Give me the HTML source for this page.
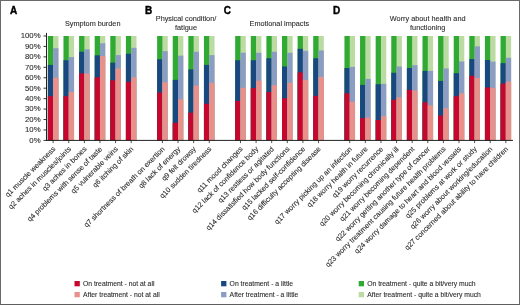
<!DOCTYPE html>
<html><head><meta charset="utf-8">
<style>
html,body{margin:0;padding:0;background:#fff;}
body{width:520px;height:305px;overflow:hidden;position:relative;}
#frame{position:absolute;left:0;top:0;width:518px;height:303px;border:1px solid #6a6a6a;border-bottom-color:#5e5e5e;}
svg{position:absolute;left:0;top:0;filter:blur(0.35px);}
text{font-family:"Liberation Sans",sans-serif;fill:#2c2c2c;stroke:#2c2c2c;stroke-width:0.1px;}
.lb{font-size:7.3px;}
.tk{font-size:7.8px;}
.tt{font-size:7.3px;}
.lg{font-size:6.8px;}
.pl{font-size:10px;font-weight:bold;fill:#000;stroke:#000;stroke-width:0.4px;}
</style></head><body>
<div id="frame"></div>
<svg width="520" height="305" viewBox="0 0 520 305">
<rect x="47.85" y="36.00" width="5.90" height="104.40" fill="#31aa33"/>
<rect x="47.85" y="64.92" width="5.90" height="75.48" fill="#18487f"/>
<rect x="47.85" y="96.24" width="5.90" height="44.16" fill="#c6062c"/>
<rect x="53.15" y="36.00" width="5.30" height="104.40" fill="#bcdba2"/>
<rect x="53.15" y="48.21" width="5.30" height="92.19" fill="#8b9dc3"/>
<rect x="53.15" y="77.76" width="5.30" height="62.64" fill="#e8918a"/>
<line x1="53.15" y1="140.40" x2="53.15" y2="143.10" stroke="#222" stroke-width="0.8"/>
<text x="55.85" y="149.50" text-anchor="end" transform="rotate(-45 55.85 149.50)" class="lb">q1 muscle weakness</text>
<rect x="63.46" y="36.00" width="5.90" height="104.40" fill="#31aa33"/>
<rect x="63.46" y="60.22" width="5.90" height="80.18" fill="#18487f"/>
<rect x="63.46" y="96.24" width="5.90" height="44.16" fill="#c6062c"/>
<rect x="68.76" y="36.00" width="5.30" height="104.40" fill="#bcdba2"/>
<rect x="68.76" y="57.09" width="5.30" height="83.31" fill="#8b9dc3"/>
<rect x="68.76" y="91.96" width="5.30" height="48.44" fill="#e8918a"/>
<line x1="68.76" y1="140.40" x2="68.76" y2="143.10" stroke="#222" stroke-width="0.8"/>
<text x="71.46" y="149.50" text-anchor="end" transform="rotate(-45 71.46 149.50)" class="lb">q2 aches in muscles/joints</text>
<rect x="79.07" y="36.00" width="5.90" height="104.40" fill="#31aa33"/>
<rect x="79.07" y="51.76" width="5.90" height="88.64" fill="#18487f"/>
<rect x="79.07" y="73.38" width="5.90" height="67.02" fill="#c6062c"/>
<rect x="84.37" y="36.00" width="5.30" height="104.40" fill="#bcdba2"/>
<rect x="84.37" y="49.36" width="5.30" height="91.04" fill="#8b9dc3"/>
<rect x="84.37" y="73.58" width="5.30" height="66.82" fill="#e8918a"/>
<line x1="84.37" y1="140.40" x2="84.37" y2="143.10" stroke="#222" stroke-width="0.8"/>
<text x="87.07" y="149.50" text-anchor="end" transform="rotate(-45 87.07 149.50)" class="lb">q3 aches in bones</text>
<rect x="94.68" y="36.00" width="5.90" height="104.40" fill="#31aa33"/>
<rect x="94.68" y="55.31" width="5.90" height="85.09" fill="#18487f"/>
<rect x="94.68" y="77.34" width="5.90" height="63.06" fill="#c6062c"/>
<rect x="99.98" y="36.00" width="5.30" height="104.40" fill="#bcdba2"/>
<rect x="99.98" y="43.31" width="5.30" height="97.09" fill="#8b9dc3"/>
<rect x="99.98" y="56.04" width="5.30" height="84.36" fill="#e8918a"/>
<line x1="99.98" y1="140.40" x2="99.98" y2="143.10" stroke="#222" stroke-width="0.8"/>
<text x="102.68" y="149.50" text-anchor="end" transform="rotate(-45 102.68 149.50)" class="lb">q4 problems with sense of taste</text>
<rect x="110.29" y="36.00" width="5.90" height="104.40" fill="#31aa33"/>
<rect x="110.29" y="62.62" width="5.90" height="77.78" fill="#18487f"/>
<rect x="110.29" y="80.27" width="5.90" height="60.13" fill="#c6062c"/>
<rect x="115.59" y="36.00" width="5.30" height="104.40" fill="#bcdba2"/>
<rect x="115.59" y="55.11" width="5.30" height="85.29" fill="#8b9dc3"/>
<rect x="115.59" y="68.47" width="5.30" height="71.93" fill="#e8918a"/>
<line x1="115.59" y1="140.40" x2="115.59" y2="143.10" stroke="#222" stroke-width="0.8"/>
<text x="118.29" y="149.50" text-anchor="end" transform="rotate(-45 118.29 149.50)" class="lb">q5 vulnerable veins</text>
<rect x="125.90" y="36.00" width="5.90" height="104.40" fill="#31aa33"/>
<rect x="125.90" y="53.75" width="5.90" height="86.65" fill="#18487f"/>
<rect x="125.90" y="81.83" width="5.90" height="58.57" fill="#c6062c"/>
<rect x="131.20" y="36.00" width="5.30" height="104.40" fill="#bcdba2"/>
<rect x="131.20" y="47.80" width="5.30" height="92.60" fill="#8b9dc3"/>
<rect x="131.20" y="77.34" width="5.30" height="63.06" fill="#e8918a"/>
<line x1="131.20" y1="140.40" x2="131.20" y2="143.10" stroke="#222" stroke-width="0.8"/>
<text x="133.90" y="149.50" text-anchor="end" transform="rotate(-45 133.90 149.50)" class="lb">q6 itching of skin</text>
<rect x="157.12" y="36.00" width="5.90" height="104.40" fill="#31aa33"/>
<rect x="157.12" y="59.28" width="5.90" height="81.12" fill="#18487f"/>
<rect x="157.12" y="92.58" width="5.90" height="47.82" fill="#c6062c"/>
<rect x="162.42" y="36.00" width="5.30" height="104.40" fill="#bcdba2"/>
<rect x="162.42" y="51.14" width="5.30" height="89.26" fill="#8b9dc3"/>
<rect x="162.42" y="82.25" width="5.30" height="58.15" fill="#e8918a"/>
<line x1="162.42" y1="140.40" x2="162.42" y2="143.10" stroke="#222" stroke-width="0.8"/>
<text x="165.12" y="149.50" text-anchor="end" transform="rotate(-45 165.12 149.50)" class="lb">q7 shortness of breath on exertion</text>
<rect x="172.73" y="36.00" width="5.90" height="104.40" fill="#31aa33"/>
<rect x="172.73" y="79.85" width="5.90" height="60.55" fill="#18487f"/>
<rect x="172.73" y="122.86" width="5.90" height="17.54" fill="#c6062c"/>
<rect x="178.03" y="36.00" width="5.30" height="104.40" fill="#bcdba2"/>
<rect x="178.03" y="55.63" width="5.30" height="84.77" fill="#8b9dc3"/>
<rect x="178.03" y="99.27" width="5.30" height="41.13" fill="#e8918a"/>
<line x1="178.03" y1="140.40" x2="178.03" y2="143.10" stroke="#222" stroke-width="0.8"/>
<text x="180.73" y="149.50" text-anchor="end" transform="rotate(-45 180.73 149.50)" class="lb">q8 lack of energy</text>
<rect x="188.34" y="36.00" width="5.90" height="104.40" fill="#31aa33"/>
<rect x="188.34" y="69.41" width="5.90" height="70.99" fill="#18487f"/>
<rect x="188.34" y="112.63" width="5.90" height="27.77" fill="#c6062c"/>
<rect x="193.64" y="36.00" width="5.30" height="104.40" fill="#bcdba2"/>
<rect x="193.64" y="51.76" width="5.30" height="88.64" fill="#8b9dc3"/>
<rect x="193.64" y="85.59" width="5.30" height="54.81" fill="#e8918a"/>
<line x1="193.64" y1="140.40" x2="193.64" y2="143.10" stroke="#222" stroke-width="0.8"/>
<text x="196.34" y="149.50" text-anchor="end" transform="rotate(-45 196.34 149.50)" class="lb">q9 felt drowsy</text>
<rect x="203.95" y="36.00" width="5.90" height="104.40" fill="#31aa33"/>
<rect x="203.95" y="64.92" width="5.90" height="75.48" fill="#18487f"/>
<rect x="203.95" y="103.76" width="5.90" height="36.64" fill="#c6062c"/>
<rect x="209.25" y="36.00" width="5.30" height="104.40" fill="#bcdba2"/>
<rect x="209.25" y="55.11" width="5.30" height="85.29" fill="#8b9dc3"/>
<rect x="209.25" y="82.88" width="5.30" height="57.52" fill="#e8918a"/>
<line x1="209.25" y1="140.40" x2="209.25" y2="143.10" stroke="#222" stroke-width="0.8"/>
<text x="211.95" y="149.50" text-anchor="end" transform="rotate(-45 211.95 149.50)" class="lb">q10 sudden tiredness</text>
<rect x="235.17" y="36.00" width="5.90" height="104.40" fill="#31aa33"/>
<rect x="235.17" y="60.22" width="5.90" height="80.18" fill="#18487f"/>
<rect x="235.17" y="100.94" width="5.90" height="39.46" fill="#c6062c"/>
<rect x="240.47" y="36.00" width="5.30" height="104.40" fill="#bcdba2"/>
<rect x="240.47" y="52.70" width="5.30" height="87.70" fill="#8b9dc3"/>
<rect x="240.47" y="87.78" width="5.30" height="52.62" fill="#e8918a"/>
<line x1="240.47" y1="140.40" x2="240.47" y2="143.10" stroke="#222" stroke-width="0.8"/>
<text x="243.17" y="149.50" text-anchor="end" transform="rotate(-45 243.17 149.50)" class="lb">q11 mood changes</text>
<rect x="250.78" y="36.00" width="5.90" height="104.40" fill="#31aa33"/>
<rect x="250.78" y="60.22" width="5.90" height="80.18" fill="#18487f"/>
<rect x="250.78" y="88.10" width="5.90" height="52.30" fill="#c6062c"/>
<rect x="256.08" y="36.00" width="5.30" height="104.40" fill="#bcdba2"/>
<rect x="256.08" y="52.81" width="5.30" height="87.59" fill="#8b9dc3"/>
<rect x="256.08" y="80.68" width="5.30" height="59.72" fill="#e8918a"/>
<line x1="256.08" y1="140.40" x2="256.08" y2="143.10" stroke="#222" stroke-width="0.8"/>
<text x="258.78" y="149.50" text-anchor="end" transform="rotate(-45 258.78 149.50)" class="lb">q12 lack of confidence body</text>
<rect x="266.39" y="36.00" width="5.90" height="104.40" fill="#31aa33"/>
<rect x="266.39" y="58.24" width="5.90" height="82.16" fill="#18487f"/>
<rect x="266.39" y="91.96" width="5.90" height="48.44" fill="#c6062c"/>
<rect x="271.69" y="36.00" width="5.30" height="104.40" fill="#bcdba2"/>
<rect x="271.69" y="51.76" width="5.30" height="88.64" fill="#8b9dc3"/>
<rect x="271.69" y="85.17" width="5.30" height="55.23" fill="#e8918a"/>
<line x1="271.69" y1="140.40" x2="271.69" y2="143.10" stroke="#222" stroke-width="0.8"/>
<text x="274.39" y="149.50" text-anchor="end" transform="rotate(-45 274.39 149.50)" class="lb">q13 restless or agitated</text>
<rect x="282.00" y="36.00" width="5.90" height="104.40" fill="#31aa33"/>
<rect x="282.00" y="66.48" width="5.90" height="73.92" fill="#18487f"/>
<rect x="282.00" y="98.22" width="5.90" height="42.18" fill="#c6062c"/>
<rect x="287.30" y="36.00" width="5.30" height="104.40" fill="#bcdba2"/>
<rect x="287.30" y="52.81" width="5.30" height="87.59" fill="#8b9dc3"/>
<rect x="287.30" y="82.88" width="5.30" height="57.52" fill="#e8918a"/>
<line x1="287.30" y1="140.40" x2="287.30" y2="143.10" stroke="#222" stroke-width="0.8"/>
<text x="290.00" y="149.50" text-anchor="end" transform="rotate(-45 290.00 149.50)" class="lb">q14 dissatisfied how body functions</text>
<rect x="297.61" y="36.00" width="5.90" height="104.40" fill="#31aa33"/>
<rect x="297.61" y="48.84" width="5.90" height="91.56" fill="#18487f"/>
<rect x="297.61" y="72.44" width="5.90" height="67.96" fill="#c6062c"/>
<rect x="302.91" y="36.00" width="5.30" height="104.40" fill="#bcdba2"/>
<rect x="302.91" y="50.82" width="5.30" height="89.58" fill="#8b9dc3"/>
<rect x="302.91" y="79.85" width="5.30" height="60.55" fill="#e8918a"/>
<line x1="302.91" y1="140.40" x2="302.91" y2="143.10" stroke="#222" stroke-width="0.8"/>
<text x="305.61" y="149.50" text-anchor="end" transform="rotate(-45 305.61 149.50)" class="lb">q15 lacked self-confidence</text>
<rect x="313.22" y="36.00" width="5.90" height="104.40" fill="#31aa33"/>
<rect x="313.22" y="58.24" width="5.90" height="82.16" fill="#18487f"/>
<rect x="313.22" y="95.82" width="5.90" height="44.58" fill="#c6062c"/>
<rect x="318.52" y="36.00" width="5.30" height="104.40" fill="#bcdba2"/>
<rect x="318.52" y="50.41" width="5.30" height="89.99" fill="#8b9dc3"/>
<rect x="318.52" y="76.92" width="5.30" height="63.48" fill="#e8918a"/>
<line x1="318.52" y1="140.40" x2="318.52" y2="143.10" stroke="#222" stroke-width="0.8"/>
<text x="321.22" y="149.50" text-anchor="end" transform="rotate(-45 321.22 149.50)" class="lb">q16 difficulty accepting disease</text>
<rect x="344.44" y="36.00" width="5.90" height="104.40" fill="#31aa33"/>
<rect x="344.44" y="68.05" width="5.90" height="72.35" fill="#18487f"/>
<rect x="344.44" y="93.32" width="5.90" height="47.08" fill="#c6062c"/>
<rect x="349.74" y="36.00" width="5.30" height="104.40" fill="#bcdba2"/>
<rect x="349.74" y="66.90" width="5.30" height="73.50" fill="#8b9dc3"/>
<rect x="349.74" y="101.77" width="5.30" height="38.63" fill="#e8918a"/>
<line x1="349.74" y1="140.40" x2="349.74" y2="143.10" stroke="#222" stroke-width="0.8"/>
<text x="352.44" y="149.50" text-anchor="end" transform="rotate(-45 352.44 149.50)" class="lb">q17 worry picking up an infection</text>
<rect x="360.05" y="36.00" width="5.90" height="104.40" fill="#31aa33"/>
<rect x="360.05" y="84.86" width="5.90" height="55.54" fill="#18487f"/>
<rect x="360.05" y="118.16" width="5.90" height="22.24" fill="#c6062c"/>
<rect x="365.35" y="36.00" width="5.30" height="104.40" fill="#bcdba2"/>
<rect x="365.35" y="78.91" width="5.30" height="61.49" fill="#8b9dc3"/>
<rect x="365.35" y="117.54" width="5.30" height="22.86" fill="#e8918a"/>
<line x1="365.35" y1="140.40" x2="365.35" y2="143.10" stroke="#222" stroke-width="0.8"/>
<text x="368.05" y="149.50" text-anchor="end" transform="rotate(-45 368.05 149.50)" class="lb">q18 worry health in future</text>
<rect x="375.66" y="36.00" width="5.90" height="104.40" fill="#31aa33"/>
<rect x="375.66" y="84.23" width="5.90" height="56.17" fill="#18487f"/>
<rect x="375.66" y="120.04" width="5.90" height="20.36" fill="#c6062c"/>
<rect x="380.96" y="36.00" width="5.30" height="104.40" fill="#bcdba2"/>
<rect x="380.96" y="83.82" width="5.30" height="56.58" fill="#8b9dc3"/>
<rect x="380.96" y="116.07" width="5.30" height="24.33" fill="#e8918a"/>
<line x1="380.96" y1="140.40" x2="380.96" y2="143.10" stroke="#222" stroke-width="0.8"/>
<text x="383.66" y="149.50" text-anchor="end" transform="rotate(-45 383.66 149.50)" class="lb">q19 worry recurrence</text>
<rect x="391.27" y="36.00" width="5.90" height="104.40" fill="#31aa33"/>
<rect x="391.27" y="72.75" width="5.90" height="67.65" fill="#18487f"/>
<rect x="391.27" y="99.79" width="5.90" height="40.61" fill="#c6062c"/>
<rect x="396.57" y="36.00" width="5.30" height="104.40" fill="#bcdba2"/>
<rect x="396.57" y="66.48" width="5.30" height="73.92" fill="#8b9dc3"/>
<rect x="396.57" y="97.28" width="5.30" height="43.12" fill="#e8918a"/>
<line x1="396.57" y1="140.40" x2="396.57" y2="143.10" stroke="#222" stroke-width="0.8"/>
<text x="399.27" y="149.50" text-anchor="end" transform="rotate(-45 399.27 149.50)" class="lb">q20 worry becoming chronically ill</text>
<rect x="406.88" y="36.00" width="5.90" height="104.40" fill="#31aa33"/>
<rect x="406.88" y="68.05" width="5.90" height="72.35" fill="#18487f"/>
<rect x="406.88" y="89.87" width="5.90" height="50.53" fill="#c6062c"/>
<rect x="412.18" y="36.00" width="5.30" height="104.40" fill="#bcdba2"/>
<rect x="412.18" y="65.13" width="5.30" height="75.27" fill="#8b9dc3"/>
<rect x="412.18" y="90.50" width="5.30" height="49.90" fill="#e8918a"/>
<line x1="412.18" y1="140.40" x2="412.18" y2="143.10" stroke="#222" stroke-width="0.8"/>
<text x="414.88" y="149.50" text-anchor="end" transform="rotate(-45 414.88 149.50)" class="lb">q21 worry becoming dependent</text>
<rect x="422.49" y="36.00" width="5.90" height="104.40" fill="#31aa33"/>
<rect x="422.49" y="70.87" width="5.90" height="69.53" fill="#18487f"/>
<rect x="422.49" y="102.29" width="5.90" height="38.11" fill="#c6062c"/>
<rect x="427.79" y="36.00" width="5.30" height="104.40" fill="#bcdba2"/>
<rect x="427.79" y="70.87" width="5.30" height="69.53" fill="#8b9dc3"/>
<rect x="427.79" y="105.32" width="5.30" height="35.08" fill="#e8918a"/>
<line x1="427.79" y1="140.40" x2="427.79" y2="143.10" stroke="#222" stroke-width="0.8"/>
<text x="430.49" y="149.50" text-anchor="end" transform="rotate(-45 430.49 149.50)" class="lb">q22 worry getting another type of cancer</text>
<rect x="438.10" y="36.00" width="5.90" height="104.40" fill="#31aa33"/>
<rect x="438.10" y="80.89" width="5.90" height="59.51" fill="#18487f"/>
<rect x="438.10" y="115.55" width="5.90" height="24.85" fill="#c6062c"/>
<rect x="443.40" y="36.00" width="5.30" height="104.40" fill="#bcdba2"/>
<rect x="443.40" y="68.47" width="5.30" height="71.93" fill="#8b9dc3"/>
<rect x="443.40" y="108.24" width="5.30" height="32.16" fill="#e8918a"/>
<line x1="443.40" y1="140.40" x2="443.40" y2="143.10" stroke="#222" stroke-width="0.8"/>
<text x="446.10" y="149.50" text-anchor="end" transform="rotate(-45 446.10 149.50)" class="lb">q23 worry treatment causing future health problems</text>
<rect x="453.71" y="36.00" width="5.90" height="104.40" fill="#31aa33"/>
<rect x="453.71" y="73.17" width="5.90" height="67.23" fill="#18487f"/>
<rect x="453.71" y="96.24" width="5.90" height="44.16" fill="#c6062c"/>
<rect x="459.01" y="36.00" width="5.30" height="104.40" fill="#bcdba2"/>
<rect x="459.01" y="61.47" width="5.30" height="78.93" fill="#8b9dc3"/>
<rect x="459.01" y="93.32" width="5.30" height="47.08" fill="#e8918a"/>
<line x1="459.01" y1="140.40" x2="459.01" y2="143.10" stroke="#222" stroke-width="0.8"/>
<text x="461.71" y="149.50" text-anchor="end" transform="rotate(-45 461.71 149.50)" class="lb">q24 worry damage to heart and blood vessels</text>
<rect x="469.32" y="36.00" width="5.90" height="104.40" fill="#31aa33"/>
<rect x="469.32" y="59.07" width="5.90" height="81.33" fill="#18487f"/>
<rect x="469.32" y="75.78" width="5.90" height="64.62" fill="#c6062c"/>
<rect x="474.62" y="36.00" width="5.30" height="104.40" fill="#bcdba2"/>
<rect x="474.62" y="46.34" width="5.30" height="94.06" fill="#8b9dc3"/>
<rect x="474.62" y="77.97" width="5.30" height="62.43" fill="#e8918a"/>
<line x1="474.62" y1="140.40" x2="474.62" y2="143.10" stroke="#222" stroke-width="0.8"/>
<text x="477.32" y="149.50" text-anchor="end" transform="rotate(-45 477.32 149.50)" class="lb">q25 problems at work or study</text>
<rect x="484.93" y="36.00" width="5.90" height="104.40" fill="#31aa33"/>
<rect x="484.93" y="60.01" width="5.90" height="80.39" fill="#18487f"/>
<rect x="484.93" y="87.47" width="5.90" height="52.93" fill="#c6062c"/>
<rect x="490.23" y="36.00" width="5.30" height="104.40" fill="#bcdba2"/>
<rect x="490.23" y="61.58" width="5.30" height="78.82" fill="#8b9dc3"/>
<rect x="490.23" y="87.89" width="5.30" height="52.51" fill="#e8918a"/>
<line x1="490.23" y1="140.40" x2="490.23" y2="143.10" stroke="#222" stroke-width="0.8"/>
<text x="492.93" y="149.50" text-anchor="end" transform="rotate(-45 492.93 149.50)" class="lb">q26 worry about working/education</text>
<rect x="500.54" y="36.00" width="5.90" height="104.40" fill="#31aa33"/>
<rect x="500.54" y="63.14" width="5.90" height="77.26" fill="#18487f"/>
<rect x="500.54" y="83.61" width="5.90" height="56.79" fill="#c6062c"/>
<rect x="505.84" y="36.00" width="5.30" height="104.40" fill="#bcdba2"/>
<rect x="505.84" y="57.72" width="5.30" height="82.68" fill="#8b9dc3"/>
<rect x="505.84" y="81.62" width="5.30" height="58.78" fill="#e8918a"/>
<line x1="505.84" y1="140.40" x2="505.84" y2="143.10" stroke="#222" stroke-width="0.8"/>
<text x="508.54" y="149.50" text-anchor="end" transform="rotate(-45 508.54 149.50)" class="lb">q27 concerned about ability to have children</text>
<line x1="46.5" y1="32.9" x2="46.5" y2="140.90" stroke="#222" stroke-width="1"/>
<line x1="46" y1="140.40" x2="513" y2="140.40" stroke="#222" stroke-width="1"/>
<line x1="43.5" y1="140.40" x2="46.5" y2="140.40" stroke="#222" stroke-width="0.9"/>
<text x="40.6" y="142.80" text-anchor="end" class="tk">0%</text>
<line x1="43.5" y1="129.96" x2="46.5" y2="129.96" stroke="#222" stroke-width="0.9"/>
<text x="40.6" y="132.36" text-anchor="end" class="tk">10%</text>
<line x1="43.5" y1="119.52" x2="46.5" y2="119.52" stroke="#222" stroke-width="0.9"/>
<text x="40.6" y="121.92" text-anchor="end" class="tk">20%</text>
<line x1="43.5" y1="109.08" x2="46.5" y2="109.08" stroke="#222" stroke-width="0.9"/>
<text x="40.6" y="111.48" text-anchor="end" class="tk">30%</text>
<line x1="43.5" y1="98.64" x2="46.5" y2="98.64" stroke="#222" stroke-width="0.9"/>
<text x="40.6" y="101.04" text-anchor="end" class="tk">40%</text>
<line x1="43.5" y1="88.20" x2="46.5" y2="88.20" stroke="#222" stroke-width="0.9"/>
<text x="40.6" y="90.60" text-anchor="end" class="tk">50%</text>
<line x1="43.5" y1="77.76" x2="46.5" y2="77.76" stroke="#222" stroke-width="0.9"/>
<text x="40.6" y="80.16" text-anchor="end" class="tk">60%</text>
<line x1="43.5" y1="67.32" x2="46.5" y2="67.32" stroke="#222" stroke-width="0.9"/>
<text x="40.6" y="69.72" text-anchor="end" class="tk">70%</text>
<line x1="43.5" y1="56.88" x2="46.5" y2="56.88" stroke="#222" stroke-width="0.9"/>
<text x="40.6" y="59.28" text-anchor="end" class="tk">80%</text>
<line x1="43.5" y1="46.44" x2="46.5" y2="46.44" stroke="#222" stroke-width="0.9"/>
<text x="40.6" y="48.84" text-anchor="end" class="tk">90%</text>
<line x1="43.5" y1="36.00" x2="46.5" y2="36.00" stroke="#222" stroke-width="0.9"/>
<text x="40.6" y="38.40" text-anchor="end" class="tk">100%</text>
<text x="10" y="14" class="pl">A</text>
<text x="145" y="14" class="pl">B</text>
<text x="223.7" y="14" class="pl">C</text>
<text x="333" y="14" class="pl">D</text>
<text x="92.7" y="26" text-anchor="middle" class="tt">Symptom burden</text>
<text x="186" y="21.3" text-anchor="middle" class="tt">Physical condition/</text>
<text x="186" y="29.6" text-anchor="middle" class="tt">fatigue</text>
<text x="279.4" y="26" text-anchor="middle" class="tt">Emotional impacts</text>
<text x="427.7" y="21.2" text-anchor="middle" class="tt">Worry about health and</text>
<text x="427.7" y="29.7" text-anchor="middle" class="tt">functioning</text>
<rect x="74.5" y="281" width="5.3" height="5.3" fill="#c6062c"/>
<text x="83.00" y="285.60" class="lg">On treatment - not at all</text>
<rect x="74.5" y="292" width="5.3" height="5.3" fill="#e8918a"/>
<text x="83.00" y="297.00" class="lg">After treatment - not at all</text>
<rect x="221.1" y="281" width="5.3" height="5.3" fill="#18487f"/>
<text x="229.60" y="285.60" class="lg">On treatment - a little</text>
<rect x="221.1" y="292" width="5.3" height="5.3" fill="#8b9dc3"/>
<text x="229.60" y="297.00" class="lg">After treatment - a little</text>
<rect x="358.7" y="281" width="5.3" height="5.3" fill="#31aa33"/>
<text x="367.20" y="285.60" class="lg">On treatment - quite a bit/very much</text>
<rect x="358.7" y="292" width="5.3" height="5.3" fill="#bcdba2"/>
<text x="367.20" y="297.00" class="lg">After treatment - quite a bit/very much</text>
</svg>
</body></html>
